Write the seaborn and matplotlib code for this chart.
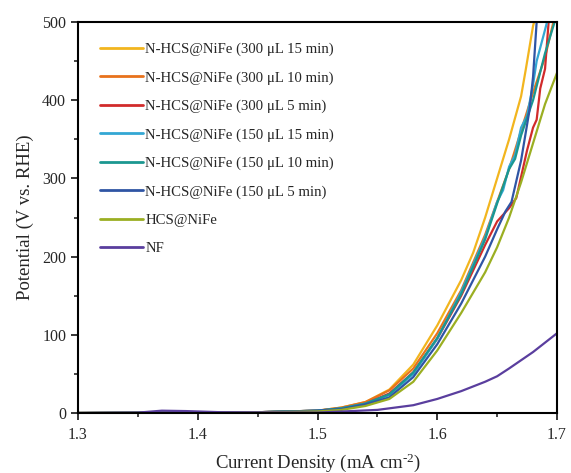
import numpy as np
import pandas as pd
import seaborn as sns
import matplotlib
matplotlib.use("Agg")
import matplotlib.pyplot as plt
from matplotlib.ticker import MultipleLocator, FormatStrFormatter

sns.set_style("ticks")
plt.rcParams['font.family'] = ['Liberation Serif', 'DejaVu Serif']
plt.rcParams['mathtext.fontset'] = 'custom'
plt.rcParams['mathtext.rm'] = 'Liberation Serif'
plt.rcParams['mathtext.it'] = 'Liberation Serif:italic'
plt.rcParams['axes.unicode_minus'] = False

labels = ["N-HCS@NiFe (300 μL 15 min)", "N-HCS@NiFe (300 μL 10 min)",
          "N-HCS@NiFe (300 μL 5 min)", "N-HCS@NiFe (150 μL 15 min)",
          "N-HCS@NiFe (150 μL 10 min)", "N-HCS@NiFe (150 μL 5 min)",
          "HCS@NiFe", "NF"]
colors = ["#F2B51E", "#E8721C", "#D12B2B", "#33A7D4", "#1B9790", "#2F55A4", "#9BAF22", "#5A3E9E"]

x_y15 = [1.30, 1.45, 1.50, 1.52, 1.54, 1.56, 1.58, 1.60, 1.62, 1.63, 1.64, 1.65, 1.66, 1.67, 1.674, 1.68, 1.69]
y_y15 = [0, 1, 3, 7, 14, 30, 62, 112, 170, 205, 250, 300, 350, 405, 440, 495, 550]

x_o10 = [1.30, 1.45, 1.50, 1.52, 1.54, 1.56, 1.58, 1.60, 1.62, 1.64, 1.66, 1.68, 1.69, 1.697, 1.70]
y_o10 = [0, 1, 3, 7, 14, 29, 57, 102, 157, 228, 312, 410, 455, 500, 515]

x_r5 = [1.30, 1.45, 1.50, 1.52, 1.54, 1.56, 1.58, 1.60, 1.62, 1.64, 1.65, 1.66, 1.666, 1.675, 1.68, 1.683, 1.686, 1.69, 1.693, 1.70]
y_r5 = [0, 1, 3, 6, 12, 25, 52, 95, 150, 215, 245, 262, 275, 336, 365, 375, 415, 440, 500, 540]

x_c15 = [1.30, 1.45, 1.50, 1.52, 1.54, 1.56, 1.58, 1.60, 1.62, 1.64, 1.65, 1.655, 1.66, 1.665, 1.67, 1.675, 1.68, 1.683, 1.69, 1.695]
y_c15 = [0, 1, 3, 6, 12, 23, 50, 95, 155, 225, 270, 285, 315, 330, 365, 380, 420, 450, 490, 520]

x_t10 = [1.30, 1.45, 1.50, 1.52, 1.54, 1.56, 1.58, 1.60, 1.62, 1.64, 1.65, 1.66, 1.665, 1.67, 1.68, 1.69, 1.70]
y_t10 = [0, 1, 3, 6, 12, 24, 52, 96, 152, 222, 268, 312, 325, 355, 400, 460, 510]

x_b5 = [1.30, 1.45, 1.50, 1.52, 1.54, 1.56, 1.58, 1.60, 1.62, 1.64, 1.65, 1.657, 1.662, 1.67, 1.677, 1.68, 1.683, 1.687]
y_b5 = [0, 1, 3, 5, 11, 20, 46, 88, 140, 200, 235, 258, 270, 323, 387, 430, 500, 520]

x_hcs = [1.30, 1.45, 1.50, 1.52, 1.54, 1.56, 1.58, 1.60, 1.62, 1.64, 1.65, 1.66, 1.67, 1.68, 1.69, 1.70]
y_hcs = [0, 1, 2, 4, 9, 18, 40, 80, 128, 180, 212, 250, 295, 345, 395, 435]

x_nf = [1.30, 1.35, 1.37, 1.39, 1.42, 1.50, 1.55, 1.58, 1.60, 1.62, 1.64, 1.65, 1.66, 1.68, 1.70]
y_nf = [0, 0.5, 3, 2.5, 1, 0.5, 4, 10, 18, 28, 40, 47, 57, 78, 102]

xs = [x_y15, x_o10, x_r5, x_c15, x_t10, x_b5, x_hcs, x_nf]
ys = [y_y15, y_o10, y_r5, y_c15, y_t10, y_b5, y_hcs, y_nf]

frames = []
for lab, xv, yv in zip(labels, xs, ys):
    frames.append(pd.DataFrame({"x": xv, "y": yv, "series": lab}))
df = pd.concat(frames, ignore_index=True)

fig = plt.figure(figsize=(5.71, 4.73), dpi=100)
ax = fig.add_axes([0.1366, 0.1268, 0.8389, 0.8267])
sns.lineplot(data=df, x="x", y="y", hue="series", hue_order=labels,
             palette=dict(zip(labels, colors)), sort=False, estimator=None,
             linewidth=1.6, ax=ax)

ax.set_xlim(1.3, 1.7)
ax.set_ylim(0, 500)
ax.xaxis.set_major_locator(MultipleLocator(0.1))
ax.xaxis.set_minor_locator(MultipleLocator(0.05))
ax.xaxis.set_major_formatter(FormatStrFormatter('%.1f'))
ax.yaxis.set_major_locator(MultipleLocator(100))
ax.yaxis.set_minor_locator(MultipleLocator(50))
ax.tick_params(which='major', direction='out', length=5, width=1.3, labelsize=11.5)
ax.tick_params(axis='x', which='major', pad=5)
ax.tick_params(which='minor', direction='out', length=3, width=1.2)
for s in ax.spines.values():
    s.set_linewidth(1.5)
    s.set_color('black')
ax.set_xlabel("Current Density (mA cm$^{\\text{-2}}$)", fontsize=13.5, labelpad=6)
ax.set_ylabel("Potential (V vs. RHE)", fontsize=13.5, labelpad=6)

leg = ax.legend(loc="upper left", frameon=False, fontsize=10.6, handlelength=2.95,
                handletextpad=0.15, labelspacing=1.02, borderaxespad=0.0,
                bbox_to_anchor=(0.033, 0.962))
for h in leg.get_lines():
    h.set_linewidth(2.0)

fig.savefig("out.png", dpi=100)
